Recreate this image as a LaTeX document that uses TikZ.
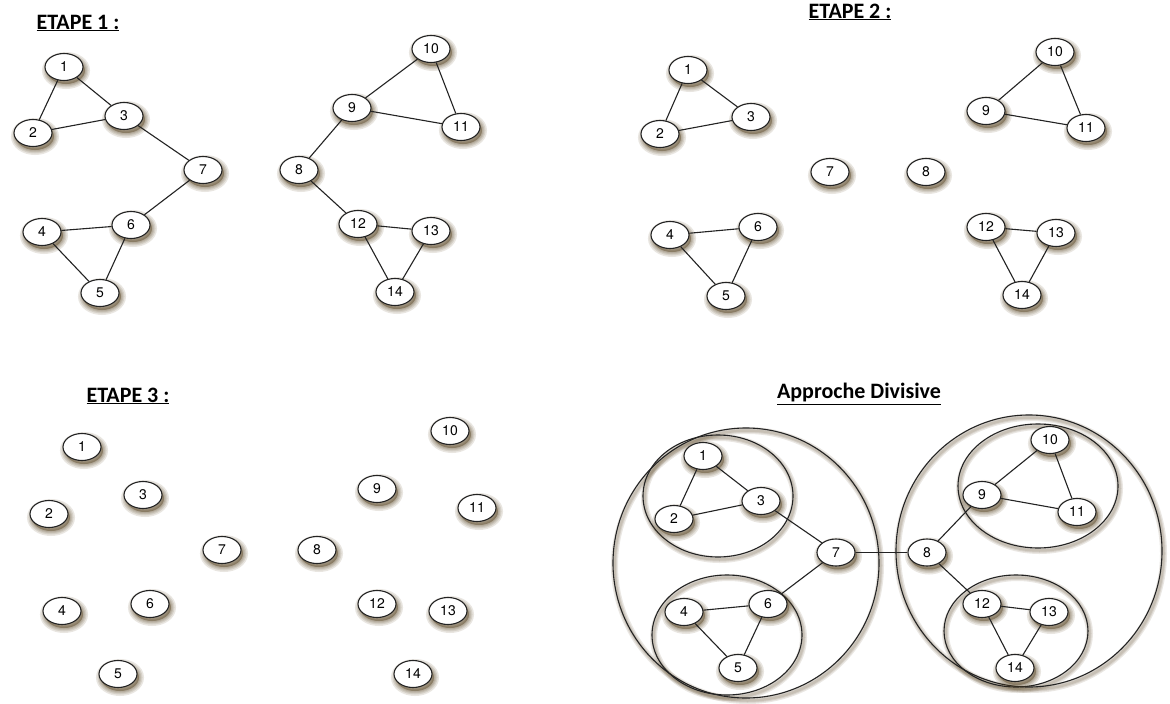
\documentclass[tikz,border=0pt]{standalone}
\usepackage{fontspec}
\setmainfont{Liberation Sans}
\newfontfamily\titlefont{Carlito}
\newfontfamily\labelfont{TeX Gyre Heros}
\usetikzlibrary{shapes.geometric}

\definecolor{shadowbrown}{RGB}{85,65,30}
\definecolor{inkgray}{RGB}{35,35,35}

\tikzset{
  softshade/.style={preaction={draw=shadowbrown, line width=#1, opacity=0.13,
      fill=shadowbrown, fill opacity=0.13,
      transform canvas={shift={(2pt,-3.5pt)}}}},
  vertex/.style={ellipse, draw=inkgray, line width=1.1pt, fill=white,
    minimum width=38pt, minimum height=27pt, inner sep=0pt,
    font=\labelfont\fontsize{14}{14}\selectfont,
    softshade=10pt, softshade=7pt, softshade=4.5pt, softshade=2.5pt},
  link/.style={draw=inkgray, line width=1.1pt},
  ring/.style={draw=inkgray, line width=1.1pt},
  ringglow/.style={draw=shadowbrown, line width=#1, opacity=0.12},
  heading/.style={font=\titlefont\bfseries\fontsize{22}{22}\selectfont, inner sep=0pt}
}

\begin{document}
\begin{tikzpicture}[x=1pt, y=-1pt]
\useasboundingbox[fill=white] (0,0) rectangle (1170,704);

% headings
\node[heading] (t1) at (78,23) {\underline{ETAPE 1 :}};
\node[heading] (t2) at (850,12) {\underline{ETAPE 2 :}};
\node[heading] (t3) at (128,396) {\underline{ETAPE 3 :}};
\node[heading] (t4) at (859,394) {\underline{Approche Divisive}};

% ---------- step 1: full graph ----------
\foreach \n/\x/\y in {1/64/67, 2/33/133, 3/124/116, 7/203/170, 4/42/232, 6/131/225,
  5/100/293, 10/431/49, 9/352/108, 11/461/127, 8/299/170, 12/358/224, 13/431/231, 14/395/292}
  \node[vertex] (a\n) at (\x,\y) {\n};
\foreach \u/\v in {1/2,1/3,2/3,3/7,7/6,4/6,4/5,6/5,10/9,10/11,9/11,9/8,8/12,12/13,12/14,13/14}
  \draw[link] (a\u) -- (a\v);

% ---------- step 2: bridges removed ----------
\foreach \n/\x/\y in {1/688/70, 2/660/134, 3/751/117, 7/830/172, 8/926/172, 4/670/235,
  6/758/227, 5/726/296, 10/1055/52, 9/986/111, 11/1086/128, 12/986/227, 13/1056/233, 14/1022/295}
  \node[vertex] (b\n) at (\x,\y) {\n};
\foreach \u/\v in {1/2,1/3,2/3,4/6,4/5,6/5,10/9,10/11,9/11,12/13,12/14,13/14}
  \draw[link] (b\u) -- (b\v);

% ---------- step 3: isolated vertices ----------
\foreach \n/\x/\y in {1/82/447, 2/49/514, 3/143/495, 7/222/550, 8/317/550, 4/62/611,
  6/150/604, 5/118/674, 10/450/431, 9/377/489, 11/477/508, 12/377/604, 13/448/611, 14/413/674}
  \node[vertex] (c\n) at (\x,\y) {\n};

% ---------- divisive approach: nested clusters ----------
\foreach \cx/\cy/\rx/\ry in {746/563/133/135, 718/496/75/61, 727/635/75/60,
  1029/551/133/136, 1038/486/80/62, 1016/631/72/56} {
  \foreach \w in {7pt,4.5pt,2.5pt}
    \draw[ringglow=\w] (\cx+1.5,\cy+2.5) ellipse[x radius=\rx, y radius=\ry];
}
\draw[ring] (746,563) ellipse[x radius=133, y radius=135];
\draw[ring] (718,496) ellipse[x radius=75, y radius=61];
\draw[ring] (727,635) ellipse[x radius=75, y radius=60];
\draw[ring] (1029,551) ellipse[x radius=133, y radius=136];
\draw[ring] (1038,486) ellipse[x radius=80, y radius=62];
\draw[ring] (1016,631) ellipse[x radius=72, y radius=56];

\foreach \n/\x/\y in {1/703/456, 2/674/519, 3/761/501, 7/836/552.5, 4/684/612, 6/768/604,
  5/738/668, 10/1050/440, 9/982/495, 11/1077/512, 8/927/552.5, 12/982/604, 13/1049/612, 14/1015/668}
  \node[vertex] (d\n) at (\x,\y) {\n};
\foreach \u/\v in {1/2,1/3,2/3,3/7,7/6,4/6,4/5,6/5,10/9,10/11,9/11,9/8,8/12,12/13,12/14,13/14,7/8}
  \draw[link] (d\u) -- (d\v);

\end{tikzpicture}
\end{document}
